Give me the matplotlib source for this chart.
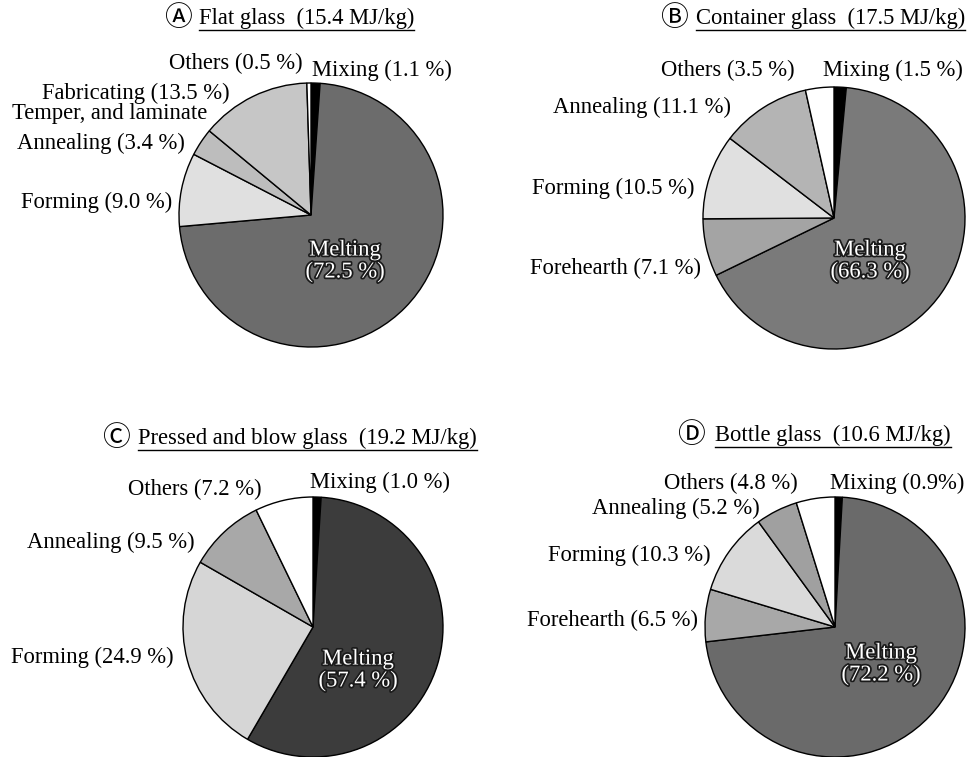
import matplotlib
matplotlib.use('Agg')
import matplotlib.pyplot as plt
import matplotlib.patheffects as pe

W, H = 976, 757
SERIF = ['Liberation Serif', 'DejaVu Sans']
MARK_FONT = ['Liberation Serif', 'Noto Sans CJK JP', 'DejaVu Sans']
FS = 16.3

# slices run clockwise from 12 o'clock
a_names = ['Mixing', 'Melting', 'Forming', 'Annealing', 'Fabricating', 'Others']
a_values = [1.1, 72.5, 9.0, 3.4, 13.5, 0.5]
a_colors = ['black', '#6c6c6c', '#e0e0e0', '#bdbdbd', '#c6c6c6', 'white']

b_names = ['Mixing', 'Melting', 'Forehearth', 'Forming', 'Annealing', 'Others']
b_values = [1.5, 66.3, 7.1, 10.5, 11.1, 3.5]
b_colors = ['black', '#7a7a7a', '#a4a4a4', '#e0e0e0', '#b4b4b4', 'white']

c_names = ['Mixing', 'Melting', 'Forming', 'Annealing', 'Others']
c_values = [1.0, 57.4, 24.9, 9.5, 7.2]
c_colors = ['black', '#3c3c3c', '#d6d6d6', '#a8a8a8', 'white']

d_names = ['Mixing', 'Melting', 'Forehearth', 'Forming', 'Annealing', 'Others']
d_values = [0.9, 72.2, 6.5, 10.3, 5.2, 4.8]
d_colors = ['black', '#6a6a6a', '#a8a8a8', '#dadada', '#a0a0a0', 'white']

marks = ['\u24b6', '\u24b7', '\u24b8', '\u24b9']
titles = ['Flat glass  (15.4 MJ/kg)', 'Container glass  (17.5 MJ/kg)',
          'Pressed and blow glass  (19.2 MJ/kg)', 'Bottle glass  (10.6 MJ/kg)']

# layout in pixels, measured from the top-left corner
panels = [
    dict(names=a_names, values=a_values, colors=a_colors,
         center=(311, 215), r=132, mark_x=164, title_x=199, title_y=18,
         labels={'Others': (303, 63, 'right'), 'Mixing': (312, 70, 'left'),
                 'Fabricating': (230, 93, 'right'), 'Annealing': (185, 143, 'right'),
                 'Forming': (172, 202, 'right')},
         melt=(345, 261), extra=[('Temper, and laminate', 207, 114, 'right')]),
    dict(names=b_names, values=b_values, colors=b_colors,
         center=(834, 218), r=131, mark_x=660, title_x=696, title_y=18,
         labels={'Others': (795, 70, 'right'), 'Mixing': (823, 70, 'left'),
                 'Annealing': (731, 107, 'right'), 'Forming': (695, 188, 'right'),
                 'Forehearth': (701, 268, 'right')},
         melt=(870, 261), extra=[]),
    dict(names=c_names, values=c_values, colors=c_colors,
         center=(313, 627), r=130, mark_x=102, title_x=138, title_y=438,
         labels={'Others': (262, 489, 'right'), 'Mixing': (310, 482, 'left'),
                 'Annealing': (195, 542, 'right'), 'Forming': (174, 657, 'right')},
         melt=(358, 670), extra=[]),
    dict(names=d_names, values=d_values, colors=d_colors,
         center=(835, 627), r=130, mark_x=677, title_x=715, title_y=435,
         labels={'Others': (798, 483, 'right'), 'Mixing': (830, 483, 'left'),
                 'Annealing': (760, 508, 'right'), 'Forming': (711, 555, 'right'),
                 'Forehearth': (698, 620, 'right')},
         melt=(881, 664), extra=[], tight={'Mixing'}),
]

fig = plt.figure(figsize=(W / 100, H / 100), dpi=100)
ax = fig.add_axes([0, 0, 1, 1])

title_texts = []
for i, p in enumerate(panels):
    cx, cy = p['center']
    ax.pie(p['values'], colors=p['colors'], center=(cx, H - cy), radius=p['r'],
           startangle=90, counterclock=False,
           wedgeprops=dict(edgecolor='black', linewidth=1.0))

    ax.text(p['mark_x'], H - p['title_y'] - 1, marks[i], fontsize=20,
            family=MARK_FONT, ha='left', va='center')
    t = ax.text(p['title_x'], H - p['title_y'], titles[i],
                fontsize=FS, family=SERIF, ha='left', va='center')
    title_texts.append(t)

    tight = p.get('tight', set())
    for name, val in zip(p['names'], p['values']):
        if name == 'Melting':
            mx, my = p['melt']
            ax.text(mx, H - my, f'{name}\n({val:.1f} %)', fontsize=FS, family=SERIF,
                    color='white', ha='center', va='center', linespacing=1.05,
                    path_effects=[pe.withStroke(linewidth=2.5, foreground='#1a1a1a')])
            continue
        x, y, ha = p['labels'][name]
        pct = f'{val:.1f}%' if name in tight else f'{val:.1f} %'
        ax.text(x, H - y, f'{name} ({pct})', fontsize=FS, family=SERIF,
                ha=ha, va='center')
    for txt, x, y, ha in p['extra']:
        ax.text(x, H - y, txt, fontsize=FS, family=SERIF, ha=ha, va='center')

ax.set_xlim(0, W)
ax.set_ylim(0, H)
ax.set_aspect('equal')
ax.axis('off')

# underline the panel titles
fig.canvas.draw()
inv = ax.transData.inverted()
for t in title_texts:
    bb = t.get_window_extent()
    (x0, y0), (x1, _) = inv.transform([(bb.x0, bb.y0), (bb.x1, bb.y1)])
    ax.plot([x0, x1], [y0 - 1, y0 - 1], color='black', linewidth=1.0)

fig.savefig('out.png', dpi=100)
